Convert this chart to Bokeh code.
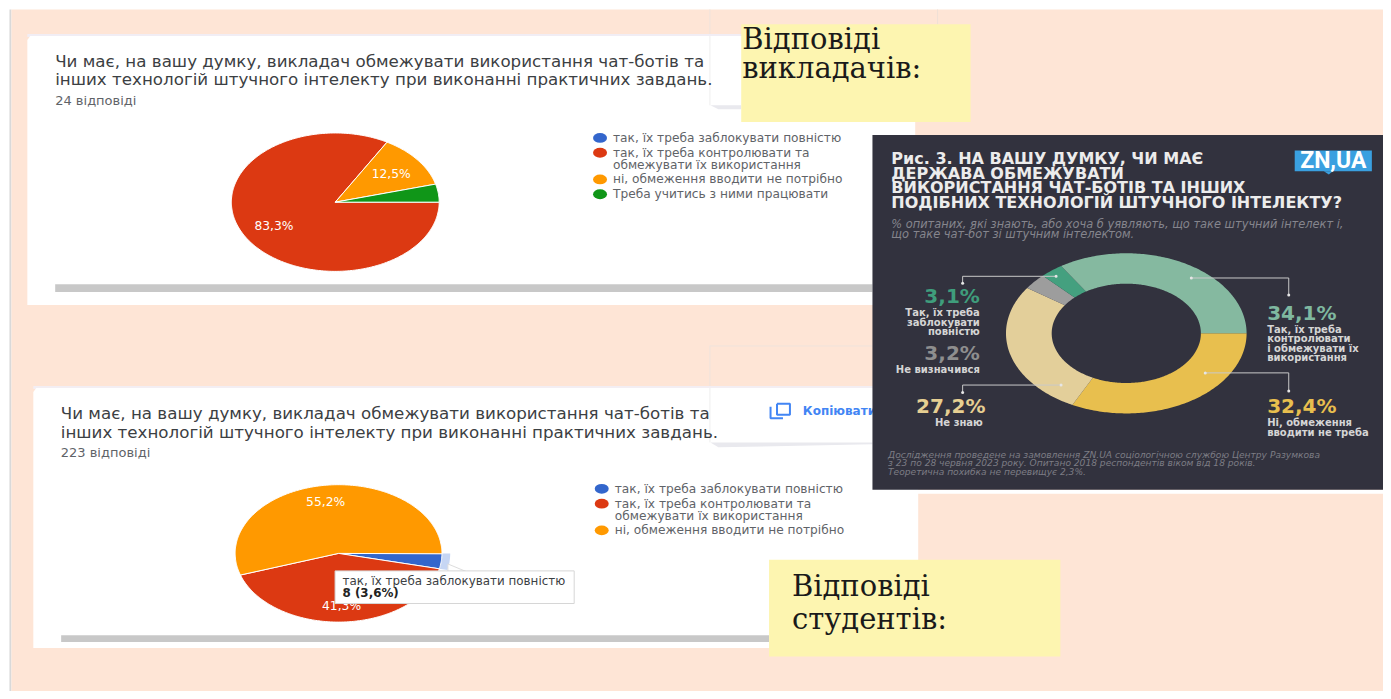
import numpy as np
from bokeh.plotting import figure
from bokeh.models import Range1d
from bokeh.core.properties import value
from bokeh.embed import file_html
from bokeh.resources import INLINE

# ---- data ----
teacher_labels = ["так, їх треба заблокувати повністю",
                  "так, їх треба контролювати та\nобмежувати їх використання",
                  "ні, обмеження вводити не потрібно",
                  "Треба учитись з ними працювати"]
teacher_values = [0.0, 83.3, 12.5, 4.2]
student_labels = teacher_labels[:3]
student_values = [3.6, 41.3, 55.2]
state_values = [32.4, 27.2, 3.2, 3.1, 34.1]
form_colors = ["#3366cc", "#dc3912", "#ff9900", "#109618"]
state_colors = ["#e8bf4e", "#e3cf9a", "#9d9d9d", "#44a07f", "#85b9a0"]

question = ["Чи має, на вашу думку, викладач обмежувати використання чат-ботів та",
            "інших технологій штучного інтелекту при виконанні практичних завдань."]
panel_title = ["Рис. 3. НА ВАШУ ДУМКУ, ЧИ МАЄ", "ДЕРЖАВА ОБМЕЖУВАТИ",
               "ВИКОРИСТАННЯ ЧАТ-БОТІВ ТА ІНШИХ", "ПОДІБНИХ ТЕХНОЛОГІЙ ШТУЧНОГО ІНТЕЛЕКТУ?"]
panel_sub = ["% опитаних, які знають, або хоча б уявляють, що таке штучний інтелект і,",
             "що таке чат-бот зі штучним інтелектом."]
panel_note = ["Дослідження проведене на замовлення ZN.UA соціологічною службою Центру Разумкова",
              "з 23 по 28 червня 2023 року. Опитано 2018 респондентів віком від 18 років.",
              "Теоретична похибка не перевищує 2,3%."]

# ---- canvas: one figure whose units are pixels of the 1391x699 picture ----
p = figure(width=1383, height=691, x_range=Range1d(0, 1391), y_range=Range1d(699, 0),
           output_backend="svg", toolbar_location=None, min_border=0,
           x_axis_type=None, y_axis_type=None, background_fill_color="white",
           border_fill_color="white", outline_line_color=None)
p.grid.visible = False

SANS = "DejaVu Sans"
SERIF = "DejaVu Serif"


def box(x0, y0, x1, y1, fill, line=None):
    p.quad(left=[x0], right=[x1], top=[y0], bottom=[y1], fill_color=fill, line_color=line, line_width=1)


def txt(x, y, s, size, color, font=SANS, style="normal", align="left"):
    p.text(x=[x], y=[y], text=[s], text_font=value(font), text_font_size=f"{size}px",
           text_font_style=style, text_color=color, text_align=align, text_baseline="middle")


def path(xs, ys, color, width=1.0):
    p.line(xs, ys, line_color=color, line_width=width)


def slices(cx, cy, rx, ry, values, colors, start=90.0, inner=0.0, edge="white", scale=1.0):
    """Elliptic slices; angle is measured clockwise from 12 o'clock, in degrees."""
    a0 = start
    for v, c in zip(values, colors):
        a1 = a0 + v / 100.0 * 360.0
        if v > 0:
            t = np.radians(np.linspace(a0, a1, max(int(v * 4), 8)))
            xs = list(cx + rx * scale * np.sin(t))
            ys = list(cy - ry * scale * np.cos(t))
            if inner:
                xs += list(cx + rx * inner * np.sin(t[::-1]))
                ys += list(cy - ry * inner * np.cos(t[::-1]))
            else:
                xs.append(cx)
                ys.append(cy)
            p.patch(xs, ys, fill_color=c, line_color=edge, line_width=1)
        a0 = a1


# page background
box(9, 9, 11, 700, "#d9d9d9")
box(11, 9, 1392, 700, "#fee5d6")
path([713.5, 713.5], [9, 36], "#efe3dc")
path([942.5, 942.5], [9, 24], "#efe0d6")

# --- card 1 ---
box(27, 34, 920, 37, "#f1edf4")
p.patch([27, 30, 920, 920, 27], [40, 36, 36, 308, 308], fill_color="white", line_color=None)
p.patch([714, 745, 745, 722], [106, 106, 110, 110], fill_color="#e9e9ee", line_color=None)
path([713.5, 713.5], [36, 106], "#eeeeee")
txt(55, 61, question[0], 16.7, "#3c4043")
txt(55, 79.5, question[1], 16.7, "#3c4043")
txt(55, 101, "24 відповіді", 13, "#5f6368")
slices(336.7, 204, 104.5, 70, teacher_values, form_colors)
txt(393, 175.7, "12,5%", 12.3, "#ffffff", align="center")
txt(275, 227.7, "83,3%", 12.3, "#ffffff", align="center")
for yy, c, lab in zip([139, 154, 181, 196], form_colors, teacher_labels):
    p.ellipse(x=[603], y=[yy], width=14, height=10, fill_color=c, line_color=None)
    for k, part in enumerate(lab.split("\n")):
        txt(616, yy + 12.5 * k, part, 12.2, "#5f6368")
box(55, 287, 877, 295, "#c8c8c8")

# --- card 2 ---
path([713.5, 713.5], [349, 392], "#efe3dc")
path([713.5, 877], [349.5, 349.5], "#efe3dc")
box(33, 390, 923, 393, "#f3eef3")
p.patch([33, 36, 923, 923, 33], [396, 392, 392, 655, 655], fill_color="white", line_color=None)
path([713.5, 713.5], [392, 447], "#eeeeee")
p.patch([714, 877, 877, 722], [447, 447, 449, 452], fill_color="#e9e9ee", line_color=None)
txt(60.6, 417, question[0], 16.7, "#3c4043")
txt(60.6, 436, question[1], 16.7, "#3c4043")
txt(60.6, 457, "223 відповіді", 13, "#5f6368")
# copy button
path([781, 794, 794, 781, 781], [408, 408, 419, 419, 408], "#4285f4", 2)
path([774.5, 774.5, 787], [411, 422.5, 422.5], "#4285f4", 2)
txt(807, 415, "Копіювати", 12, "#4285f4", style="bold")

# highlight of the hovered slice sits under the slice
slices(340, 559.3, 104, 69.5, student_values[:1], ["#c6d6f4"], edge=None, scale=1.08)
slices(340, 559.3, 104, 69.5, student_values, form_colors)
txt(327, 507.7, "55,2%", 12.3, "#ffffff", align="center")
txt(343, 613, "41,3%", 12.3, "#ffffff", align="center")
# tooltip
p.patch([450, 468, 450], [570, 577.5, 577.5], fill_color="white", line_color="#dddddd")
box(336.5, 577, 577, 610, "#ffffff", "#d6d6d6")
txt(344, 587, student_labels[0], 11.9, "#3c4043")
txt(344, 599.5, "8 (3,6%)", 11.9, "#222222", style="bold")
for yy, c, lab in zip([494, 509, 536], form_colors, student_labels):
    p.ellipse(x=[604.7], y=[yy], width=14, height=10, fill_color=c, line_color=None)
    for k, part in enumerate(lab.split("\n")):
        txt(617.8, yy + 12.5 * k, part, 12.2, "#5f6368")
box(61, 642, 773, 649, "#c8c8c8")

# --- yellow notes ---
box(745, 24, 975.7, 123, "#fdf5b0")
txt(746, 39, "Відповіді", 29, "#1a1a1a", font=SERIF)
txt(746, 68, "викладачів:", 29, "#1a1a1a", font=SERIF)

# --- dark panel ---
box(877, 495, 1392, 499, "#ffffff")
box(877, 136, 1392, 495, "#32323e")
for yy, s in zip([160, 174.7, 189.3, 204.7], panel_title):
    txt(896, yy, s, 16, "#ececec", style="bold")
box(1301.7, 151.7, 1379.3, 172.7, "#3aa0e0")
p.patch([1331, 1340, 1336], [172.7, 172.7, 176], fill_color="#3aa0e0", line_color=None)
txt(1340.5, 162, "ZN,UA", 23, "#ffffff", font="Roboto", style="bold", align="center")
for yy, s in zip([226, 236], panel_sub):
    txt(896, yy, s, 11.4, "#85858d", style="italic")

slices(1132.3, 336.7, 121, 81, state_values, state_colors, inner=0.62, edge=None)

for xs, ys in [([1197.7, 1295.7, 1295.7], [280.7, 280.7, 298]),
               ([1211.7, 1295.7, 1295.7], [376.7, 376.7, 395]),
               ([1061.7, 967.7, 967.7], [279, 279, 286]),
               ([1066.7, 967.7, 967.7], [389, 389, 396.5])]:
    path(xs, ys, "#c9c9c9", 1)
    p.scatter(x=[xs[0], xs[-1]], y=[ys[0], ys[-1]], size=3, marker="circle", fill_color="#e6e6e6", line_color=None)

NUM = 20
LAB = 10
LC = "#d5d5d5"
txt(985, 299, "3,1%", NUM, "#3f9d7c", style="bold", align="right")
for yy, s in zip([315.7, 325.3, 334.7], ["Так, їх треба", "заблокувати", "повністю"]):
    txt(985, yy, s, LAB, LC, style="bold", align="right")
txt(985, 356.7, "3,2%", NUM, "#8e8e8e", style="bold", align="right")
txt(985, 373, "Не визначився", LAB, LC, style="bold", align="right")
txt(990.7, 410.7, "27,2%", NUM, "#e6cf92", style="bold", align="right")
txt(988, 427.3, "Не знаю", LAB, LC, style="bold", align="right")
txt(1274, 315.7, "34,1%", NUM, "#7fb8a0", style="bold")
for yy, s in zip([332.7, 342, 351.7, 361], ["Так, їх треба", "контролювати", "і обмежувати їх", "використання"]):
    txt(1274, yy, s, LAB, LC, style="bold")
txt(1274, 410.7, "32,4%", NUM, "#e8bf4e", style="bold")
for yy, s in zip([427.3, 437], ["Ні, обмеження", "вводити не треба"]):
    txt(1274, yy, s, LAB, LC, style="bold")
for yy, s in zip([460, 468.3, 476.7], panel_note):
    txt(892.7, yy, s, 9.1, "#7d7d85", style="italic")

# student note is drawn over everything in the lower right
box(773, 565.7, 1066, 663.7, "#fdf5b0")
txt(796, 592, "Відповіді", 29, "#1a1a1a", font=SERIF)
txt(796, 626, "студентів:", 29, "#1a1a1a", font=SERIF)

open("out.html", "w").write(file_html(p, INLINE))
